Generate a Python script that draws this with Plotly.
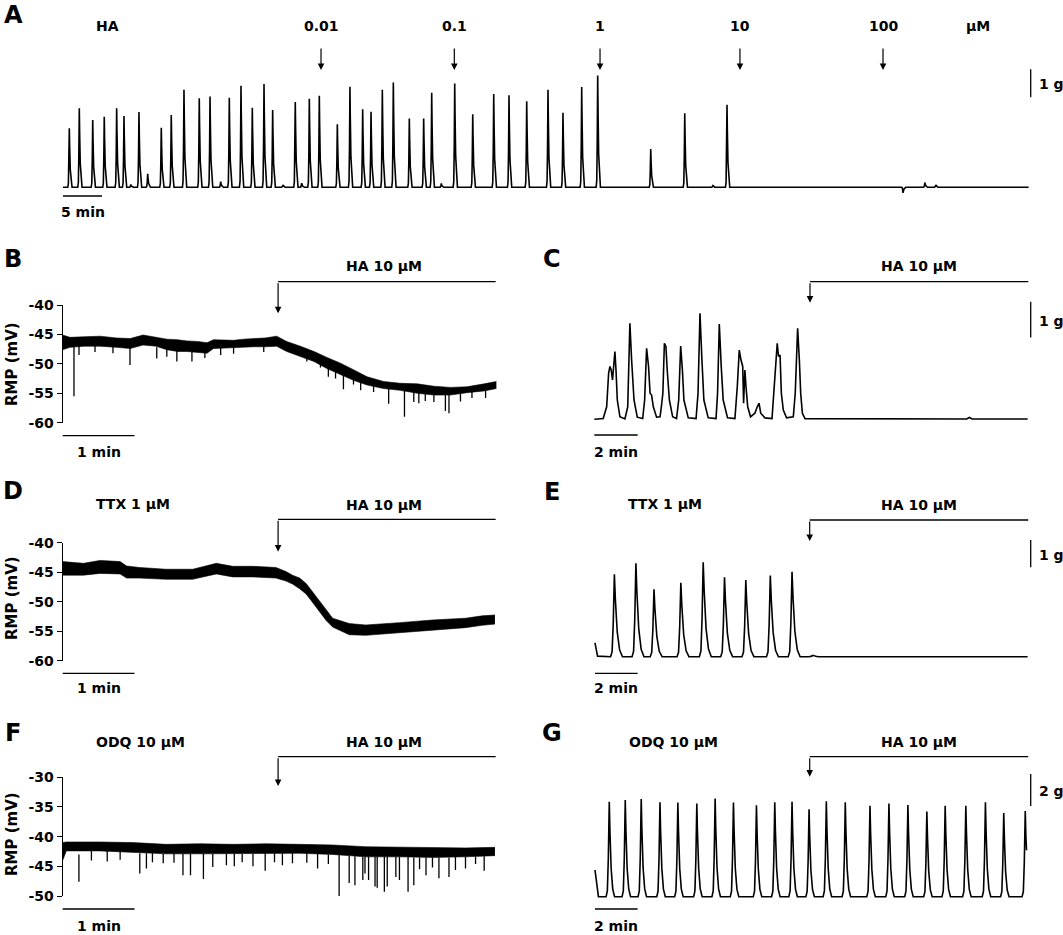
import plotly.graph_objects as go

W, H = 1063, 935

# ======================= DATA =======================
# ---- Panel A: tension (g) vs time (min), cumulative HA doses ----
A_PEAK_T = [0.81, 2.09, 3.81, 5.29, 6.88, 7.82, 8.70, 9.74, 10.86, 12.60, 13.88, 15.51, 17.47,
            18.85, 20.22, 21.32, 22.82, 24.27, 25.77, 26.88, 28.20, 29.78, 30.60, 31.58, 32.86,
            35.17, 36.79, 38.42, 39.49, 40.94, 42.35, 44.40, 46.24, 47.27, 48.50, 50.22, 52.53,
            55.22, 57.18, 59.45, 62.18, 64.10, 66.50, 68.55, 75.35, 79.71, 83.33, 85.13, 107.7,
            110.5, 111.9]
A_PEAK_G = [2.11, 2.82, 2.40, 2.52, 2.82, 2.55, 0.10, 2.69, 0.48, 2.13, 2.58, 3.48, 3.18,
            3.24, 0.20, 3.20, 3.63, 2.84, 3.69, 2.76, 0.08, 3.05, 0.15, 3.16, 3.27,
            2.25, 3.59, 2.79, 2.70, 3.48, 3.74, 2.46, 2.46, 3.38, 0.14, 3.71, 2.61,
            3.33, 3.29, 3.07, 3.48, 2.66, 3.58, 3.99, 1.37, 2.64, 0.06, 2.95, -0.20,
            0.17, 0.08]
A_END_T = 123.8
A_DOSE_T = [33.08, 50.17, 68.85, 86.79, 105.13]
A_DOSE_LABELS = ["0.01", "0.1", "1", "10", "100"]

# ---- Panel B: RMP (mV) vs time (min), HA 10 uM ----
B_T = [0, 0.10, 0.30, 0.52, 0.75, 0.94, 1.12, 1.30, 1.45, 1.60, 1.73, 1.88, 2.01, 2.10, 2.25,
       2.38, 2.52, 2.66, 2.82, 2.98, 3.12, 3.31, 3.50, 3.68, 3.87, 4.05, 4.24, 4.47, 4.70,
       4.94, 5.17, 5.40, 5.63, 5.87, 6.04]
B_UP = [-45.1, -45.5, -45.4, -45.3, -45.6, -45.7, -45.1, -45.5, -45.8, -45.9, -46.1, -46.2,
        -46.4, -45.9, -46.0, -46.0, -45.8, -45.7, -45.6, -45.3, -46.2, -47.0, -47.9, -48.9,
        -49.9, -51.0, -52.2, -53.0, -53.3, -53.4, -53.8, -54.0, -53.9, -53.4, -53.0]
B_LO = [-47.6, -47.2, -47.0, -47.0, -47.2, -47.4, -46.8, -47.0, -47.6, -47.9, -47.9, -48.0,
        -48.2, -47.4, -47.3, -47.2, -47.2, -47.1, -47.1, -47.0, -47.9, -48.8, -49.6, -50.8,
        -51.9, -52.8, -53.6, -54.2, -54.5, -55.0, -55.3, -55.3, -54.9, -54.6, -54.2]
B_SPK_T = [0.157, 0.227, 0.45, 0.70, 0.937, 1.31, 1.45, 1.59, 1.80, 1.98, 2.20, 2.38, 2.80,
           3.40, 3.59, 3.70, 3.80, 3.91, 4.05, 4.15, 4.33, 4.54, 4.76, 4.89, 4.96, 5.05, 5.17,
           5.33, 5.38, 5.54, 5.70, 5.89]
B_SPK_TOP = [-46.5, -46.8, -46.8, -46.9, -46.8, -47.2, -47.3, -47.4, -47.5, -47.8, -47.0, -46.8,
             -46.8, -48.5, -49.5, -50.0, -50.8, -51.5, -52.2, -52.8, -53.5, -54.0, -54.2, -54.5,
             -54.5, -54.8, -54.8, -55.0, -55.0, -55.0, -54.7, -54.3]
B_SPK_BOT = [-55.5, -48.5, -48.0, -48.2, -50.2, -49.1, -48.8, -49.6, -49.6, -49.0, -48.5, -48.3,
             -48.0, -49.6, -50.6, -52.2, -52.5, -54.3, -53.5, -54.5, -54.8, -56.8, -59.0, -56.5,
             -56.7, -56.3, -56.5, -58.0, -58.4, -56.4, -55.8, -55.8]

# ---- Panel C: tension (g) vs time (min), HA 10 uM ----
C_T = [0, 0.41, 0.57, 0.66, 0.72, 0.78, 0.84, 0.91, 0.95, 1.00, 1.06, 1.18, 1.41, 1.54, 1.64,
       1.72, 1.83, 1.98, 2.23, 2.32, 2.41, 2.50, 2.57, 2.64, 2.72, 2.87, 3.03, 3.10, 3.16, 3.23,
       3.30, 3.36, 3.46, 3.61, 3.79, 3.89, 3.98, 4.06, 4.13, 4.33, 4.69, 4.78, 4.87, 4.96, 5.05,
       5.25, 5.61, 5.68, 5.76, 5.85, 5.94, 6.14, 6.48, 6.59, 6.68, 6.76, 6.84, 6.88, 6.94, 6.99,
       7.07, 7.20, 7.40, 7.51, 7.59, 7.67, 7.86, 8.19, 8.28, 8.37, 8.43, 8.49, 8.56, 8.62, 8.71,
       8.86, 9.17, 9.26, 9.37, 9.45, 9.51, 9.59, 9.71, 17.16, 17.28, 17.41, 19.97]
C_G = [0, 0.02, 0.35, 1.29, 1.48, 1.38, 1.10, 1.66, 1.90, 1.38, 0.54, 0.07, 0.01, 0.35, 2.69,
       1.66, 0.54, 0.06, 0.02, 0.54, 1.99, 1.48, 0.73, 0.68, 0.35, 0.06, 0.07, 0.40, 0.73, 2.13,
       2.04, 1.38, 0.54, 0.07, 0.02, 0.54, 2.05, 1.38, 0.54, 0.04, 0.02, 0.73, 2.97, 1.66, 0.54,
       0.04, 0.02, 0.73, 2.67, 1.48, 0.54, 0.04, 0.02, 0.92, 1.94, 1.66, 1.48, 0.45, 1.38, 0.92,
       0.35, 0.07, 0.17, 0.35, 0.45, 0.17, 0.04, 0.02, 0.73, 1.66, 2.13, 1.76, 1.80, 0.73, 0.26,
       0.04, 0.07, 0.73, 2.55, 1.66, 0.73, 0.17, 0.02, 0.01, 0.05, 0.01, 0.01]

# ---- Panel D: RMP (mV), TTX 1 uM then HA 10 uM ----
D_T = [0, 0.29, 0.52, 0.80, 0.89, 1.07, 1.44, 1.81, 2.14, 2.37, 2.65, 2.97, 3.11, 3.20, 3.30,
       3.39, 3.46, 3.53, 3.60, 3.67, 3.76, 3.99, 4.22, 4.69, 5.15, 5.61, 5.84, 6.02]
D_UP = [-43.2, -43.5, -43.0, -43.2, -43.95, -44.2, -44.5, -44.5, -43.5, -44.0, -44.0, -44.2,
        -44.9, -45.5, -46.0, -46.9, -48.0, -49.1, -50.4, -51.5, -52.8, -53.7, -53.95, -53.55,
        -53.1, -52.8, -52.4, -52.25]
D_LO = [-45.5, -45.5, -45.2, -45.3, -46.0, -46.0, -46.2, -46.2, -45.3, -45.8, -45.8, -46.0,
        -46.5, -47.0, -47.8, -48.7, -49.8, -51.0, -52.2, -53.2, -54.3, -55.6, -55.7, -55.3,
        -54.8, -54.4, -54.0, -53.8]

# ---- Panel E: tension (g), TTX 1 uM then HA 10 uM ----
E_PEAK_T = [0.91, 1.92, 2.77, 4.03, 5.08, 6.08, 7.08, 8.23, 9.25, 10.23]
E_PEAK_G = [3.02, 3.42, 2.47, 2.71, 3.46, 2.91, 2.81, 2.97, 3.11, 0.05]
E_START_T = [0, 0.12]
E_START_G = [0.51, 0.02]
E_END_T, E_END_G = 20.31, 0.0

# ---- Panel F: RMP (mV), ODQ 10 uM then HA 10 uM ----
F_T = [0, 0.05, 0.52, 0.98, 1.44, 1.91, 2.37, 2.83, 3.30, 3.76, 4.22, 4.69, 5.15, 5.61, 6.02]
F_UP = [-41.0, -40.9, -40.9, -41.0, -41.3, -41.2, -41.3, -41.2, -41.3, -41.4, -41.7, -41.8,
        -41.9, -41.9, -41.8]
F_LO = [-44.0, -42.4, -42.4, -42.6, -42.9, -42.9, -42.9, -42.8, -42.8, -43.0, -43.4, -43.4,
        -43.5, -43.4, -43.2]
F_SPK_T = [0.226, 0.40, 0.62, 0.80, 1.074, 1.166, 1.25, 1.40, 1.55, 1.675, 1.78, 1.96, 2.09,
           2.28, 2.39, 2.50, 2.65, 2.82, 2.95, 3.06, 3.20, 3.40, 3.55, 3.70, 3.85, 3.99, 4.07,
           4.18, 4.21, 4.26, 4.35, 4.38, 4.48, 4.52, 4.64, 4.69, 4.81, 4.89, 4.97, 5.06, 5.15,
           5.24, 5.38, 5.47, 5.61, 5.75, 5.87]
F_SPK_TOP = [-43.0, -42.4, -42.4, -42.5, -42.8, -42.8, -42.8, -42.9, -42.9, -42.9, -42.9,
             -42.9, -42.9, -42.9, -42.9, -42.9, -42.9, -42.8, -42.8, -42.8, -42.8, -42.8,
             -42.9, -43.0, -43.1, -43.2, -43.3, -43.4, -43.4, -43.4, -43.4, -43.4, -43.4,
             -43.4, -43.4, -43.4, -43.4, -43.5, -43.5, -43.5, -43.5, -43.5, -43.5, -43.4,
             -43.4, -43.4, -43.3]
F_SPK_BOT = [-47.6, -44.0, -44.2, -43.9, -46.2, -45.35, -44.3, -44.5, -44.4, -46.5, -46.5,
             -47.15, -45.1, -44.8, -45.0, -44.3, -45.0, -45.75, -44.3, -44.8, -44.5, -44.4,
             -45.35, -44.6, -50.0, -47.8, -48.2, -47.3, -46.2, -47.3, -48.4, -48.6, -49.3,
             -48.4, -46.8, -47.3, -49.3, -48.2, -45.5, -46.5, -45.2, -47.0, -46.8, -45.6,
             -45.35, -44.6, -45.75]

# ---- Panel G: tension (g), ODQ 10 uM then HA 10 uM ----
G_PEAK_T = [0.67, 1.42, 2.17, 3.05, 3.89, 4.78, 5.64, 6.50, 7.58, 8.44, 9.25, 10.05, 10.86,
            11.75, 12.91, 13.80, 14.69, 15.58, 16.44, 17.41, 18.33, 19.19, 20.20]
G_PEAK_G = [5.94, 6.04, 6.10, 5.90, 5.88, 5.83, 6.13, 5.88, 5.71, 5.90, 5.94, 5.46, 5.96,
            5.90, 5.69, 5.83, 5.73, 5.33, 5.69, 5.69, 5.90, 5.23, 5.35]
G_START_T = [0, 0.16]
G_START_G = [1.67, 0.0]
G_END_T, G_END_G = 20.26, 2.90

RMP_TICKS_BD = [-60, -55, -50, -45, -40]
RMP_TICKS_F = [-50, -45, -40, -35, -30]
HA_ARROW_T = {"B": 3.0, "C": 9.94, "D": 3.0, "E": 10.08, "F": 3.0, "G": 10.08}
HA_END_T = {"B": 6.03, "C": 20.0, "D": 6.03, "E": 20.34, "F": 6.03, "G": 20.34}

# ======================= LAYOUT / STYLE =======================
PANELS = {
    "A": dict(x0=63.0, ppx=7.8, y0=187.3, ppy=28.0, v0=0.0, box=(50, 1040, 55, 205)),
    "B": dict(x0=62.7, ppx=71.8, y0=305.0, ppy=5.885, v0=-40.0, box=(62.7, 500, 305.0, 422.7)),
    "C": dict(x0=594.3, ppx=21.7, y0=419.3, ppy=35.7, v0=0.0, box=(585, 1035, 290, 430)),
    "D": dict(x0=62.7, ppx=71.8, y0=542.7, ppy=5.9, v0=-40.0, box=(62.7, 500, 542.7, 660.7)),
    "E": dict(x0=595.0, ppx=21.3, y0=656.7, ppy=27.3, v0=0.0, box=(585, 1035, 530, 665)),
    "F": dict(x0=62.7, ppx=71.8, y0=777.3, ppy=5.935, v0=-30.0, box=(62.7, 500, 777.3, 896.0)),
    "G": dict(x0=595.0, ppx=21.3, y0=896.7, ppy=16.0, v0=0.0, box=(585, 1035, 770, 905)),
}
ORDER = ["A", "B", "C", "D", "E", "F", "G"]
FONT = "DejaVu Sans"
LW = 1.3
TRACE_LW = 1.6

PULSE_U = [-1.0, -0.6, -0.3, 0.0, 0.12, 0.35, 0.65, 1.0]
PULSE_F = [0.0, 0.06, 0.4, 1.0, 0.7, 0.3, 0.08, 0.0]


def build_trace(peak_t, peak_v, rise, fall, start_t, start_v, end_t, end_v):
    ts, vs = list(start_t), list(start_v)
    for tp, h in zip(peak_t, peak_v):
        for u, f in zip(PULSE_U, PULSE_F):
            t = tp + u * (rise if u < 0 else fall)
            if t > end_t:
                break
            ts.append(t)
            vs.append(f * h)
    ts.append(end_t)
    vs.append(end_v)
    return ts, vs


def px_x(p, t):
    return p["x0"] + t * p["ppx"]


def PX(x):
    return x / W


def PY(y):
    return 1 - y / H


fig = go.Figure()
layout = dict(width=W, height=H, autosize=False, template="none",
              margin=dict(l=0, r=0, t=0, b=0, pad=0),
              paper_bgcolor="white", plot_bgcolor="rgba(0,0,0,0)", showlegend=False)

for i, k in enumerate(ORDER, start=1):
    p = PANELS[k]
    bx0, bx1, by0, by1 = p["box"]
    xr = [(bx0 - p["x0"]) / p["ppx"], (bx1 - p["x0"]) / p["ppx"]]
    yr = [p["v0"] + (p["y0"] - by1) / p["ppy"], p["v0"] + (p["y0"] - by0) / p["ppy"]]
    sx = "" if i == 1 else str(i)
    xa = dict(domain=[PX(bx0), PX(bx1)], range=xr, visible=False, anchor="y" + sx,
              automargin=False)
    ya = dict(domain=[PY(by1), PY(by0)], range=yr, anchor="x" + sx, showgrid=False,
              zeroline=False, automargin=False)
    if k in ("B", "D", "F"):
        ticks = RMP_TICKS_F if k == "F" else RMP_TICKS_BD
        ya.update(visible=True, showline=True, linecolor="black", linewidth=1.3,
                  ticks="outside", ticklen=5, tickwidth=1.3, tickcolor="black",
                  tickvals=ticks, ticktext=[str(v) for v in ticks],
                  tickfont=dict(family=FONT, size=14, color="black", weight="bold"))
    else:
        ya.update(visible=False)
    layout["xaxis" + sx] = xa
    layout["yaxis" + sx] = ya
    PANELS[k]["ax"] = ("x" + sx, "y" + sx)


def add_line(k, t, v, width=TRACE_LW):
    xa, ya = PANELS[k]["ax"]
    fig.add_trace(go.Scatter(x=t, y=v, mode="lines", xaxis=xa, yaxis=ya,
                             line=dict(color="black", width=width), hoverinfo="skip"))


def add_band(k, t, up, lo, spk_t=None, spk_top=None, spk_bot=None):
    xa, ya = PANELS[k]["ax"]
    fig.add_trace(go.Scatter(x=t, y=up, mode="lines", xaxis=xa, yaxis=ya,
                             line=dict(color="black", width=0.6), hoverinfo="skip"))
    fig.add_trace(go.Scatter(x=t, y=lo, mode="lines", xaxis=xa, yaxis=ya, fill="tonexty",
                             fillcolor="black", line=dict(color="black", width=0.6),
                             hoverinfo="skip"))
    if spk_t:
        xs, ys = [], []
        for a, b, c in zip(spk_t, spk_top, spk_bot):
            xs += [a, a, None]
            ys += [b, c, None]
        fig.add_trace(go.Scatter(x=xs, y=ys, mode="lines", xaxis=xa, yaxis=ya,
                                 line=dict(color="black", width=1.3), hoverinfo="skip"))


at, av = build_trace(A_PEAK_T, A_PEAK_G, 0.2, 0.35, [0], [0], A_END_T, 0)
add_line("A", at, av)
add_band("B", B_T, B_UP, B_LO, B_SPK_T, B_SPK_TOP, B_SPK_BOT)
add_line("C", C_T, C_G)
add_band("D", D_T, D_UP, D_LO)
et, ev = build_trace(E_PEAK_T, E_PEAK_G, 0.18, 0.38, E_START_T, E_START_G, E_END_T, E_END_G)
add_line("E", et, ev)
add_band("F", F_T, F_UP, F_LO, F_SPK_T, F_SPK_TOP, F_SPK_BOT)
gt, gv = build_trace(G_PEAK_T, G_PEAK_G, 0.15, 0.25, G_START_T, G_START_G, G_END_T, G_END_G)
add_line("G", gt, gv)

shapes, anns = [], []


def hline(x0, x1, y):
    shapes.append(dict(type="line", xref="paper", yref="paper", x0=PX(x0), x1=PX(x1),
                       y0=PY(y), y1=PY(y), line=dict(color="black", width=LW)))


def vline(x, y0, y1):
    shapes.append(dict(type="line", xref="paper", yref="paper", x0=PX(x), x1=PX(x),
                       y0=PY(y0), y1=PY(y1), line=dict(color="black", width=LW)))


def text(s, x, y, size=14, xanchor="center"):
    anns.append(dict(text="<b>%s</b>" % s, x=PX(x), y=PY(y), xref="paper", yref="paper",
                     showarrow=False, xanchor=xanchor, yanchor="middle",
                     font=dict(family=FONT, size=size, color="black")))


def arrow(x, y_tail, y_tip):
    anns.append(dict(text="", x=PX(x), y=PY(y_tip), xref="paper", yref="paper",
                     showarrow=True, ax=0, ay=-(y_tip - y_tail), arrowhead=2,
                     arrowsize=1.1, arrowwidth=1.2, arrowcolor="black", standoff=0))


for k, (x, y) in {"A": (13, 15), "B": (13, 259), "C": (552, 259), "D": (13, 491),
                  "E": (552, 492), "F": (13, 733), "G": (552, 733)}.items():
    text(k, x, y, size=24)

pA = PANELS["A"]
text("HA", 107, 26)
for t, lab in zip(A_DOSE_T, A_DOSE_LABELS):
    x = px_x(pA, t)
    text(lab, x, 26)
    arrow(x, 47, 70)
text("µM", 978, 26)
vline(1030.7, 69.3, 69.3 + 1.0 * pA["ppy"])
text("1 g", 1037, 84, xanchor="left")
hline(px_x(pA, 0), px_x(pA, 5), 196)
text("5 min", px_x(pA, 2.5), 212)

BRACKET_Y = {"B": (281.7, 313.3, 266), "C": (281.7, 302.7, 266), "D": (519.3, 551.7, 505),
             "E": (520.0, 541.0, 505), "F": (756.7, 786.0, 741.5), "G": (756.7, 776.7, 741.5)}
for k, (yl, ytip, ytxt) in BRACKET_Y.items():
    p = PANELS[k]
    xa_ = px_x(p, HA_ARROW_T[k])
    xe_ = px_x(p, HA_END_T[k])
    hline(xa_, xe_, yl)
    arrow(xa_, yl, ytip)
    text("HA 10 µM", 919 if k in "CEG" else 384, ytxt)

text("TTX 1 µM", 133, 504)
text("TTX 1 µM", 665, 504)
text("ODQ 10 µM", 140, 741.5)
text("ODQ 10 µM", 673, 741.5)

for k, yc in {"B": 364, "D": 598, "F": 834}.items():
    anns.append(dict(text="<b>RMP (mV)</b>", x=PX(12), y=PY(yc), xref="paper", yref="paper",
                     showarrow=False, textangle=-90, xanchor="center", yanchor="middle",
                     font=dict(family=FONT, size=15, color="black")))

for k, (yb, yt) in {"B": (435.7, 452.5), "D": (673.3, 688), "F": (909, 926)}.items():
    p = PANELS[k]
    hline(px_x(p, 0), px_x(p, 1), yb)
    text("1 min", px_x(p, 0.5), yt)
for k, (yb, yt) in {"C": (435, 452.5), "E": (673.3, 688), "G": (909, 926)}.items():
    p = PANELS[k]
    hline(px_x(p, 0), px_x(p, 2), yb)
    text("2 min", px_x(p, 1), yt)

for k, (ytop, g, lab) in {"C": (301.7, 1.0, "1 g"), "E": (540.0, 1.0, "1 g"),
                          "G": (774.0, 2.0, "2 g")}.items():
    p = PANELS[k]
    vline(1030.7, ytop, ytop + g * p["ppy"])
    text(lab, 1037, ytop + g * p["ppy"] / 2 + 1, xanchor="left")

layout["shapes"] = shapes
layout["annotations"] = anns
fig.update_layout(**layout)

fig.write_html("out.html", config={"displayModeBar": False},
               post_script="document.body.style.margin='0';document.body.style.overflow='hidden';")
